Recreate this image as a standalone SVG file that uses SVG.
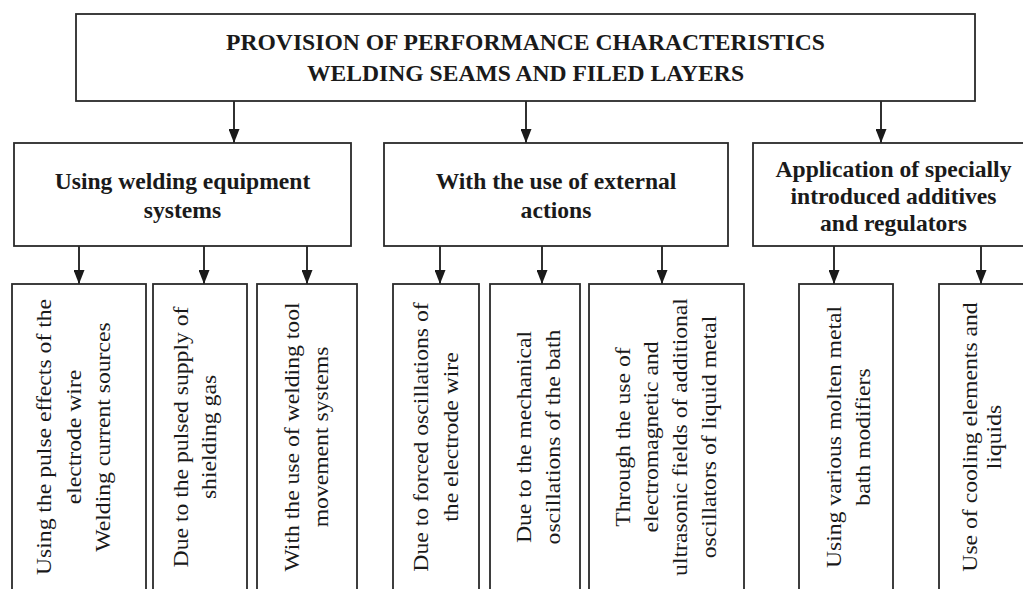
<svg xmlns="http://www.w3.org/2000/svg" width="1023" height="589" viewBox="0 0 1023 589">
<style>
.box{fill:#fff;stroke:#2a2a2a;stroke-width:1.8}
.con{stroke:#1a1a1a;stroke-width:1.8;fill:none}
.h{font-family:"Liberation Serif","Times New Roman",serif;font-weight:bold;font-size:23.6px;fill:#1a1a1a;text-anchor:middle}
.v{font-family:"Liberation Serif","Times New Roman",serif;font-size:20.5px;fill:#1a1a1a;text-anchor:middle}
</style>
<defs>
<marker id="arr" markerUnits="userSpaceOnUse" markerWidth="14" markerHeight="11" viewBox="0 0 14 11" refX="14" refY="5.5" orient="auto">
<path d="M0,0 L14,5.5 L0,11 z" fill="#1a1a1a"/>
</marker>
</defs>
<rect width="1023" height="589" fill="#fff"/>

<g id="connectors">
<line class="con" x1="234" y1="101" x2="234" y2="143" marker-end="url(#arr)"/>
<line class="con" x1="526" y1="101" x2="526" y2="143" marker-end="url(#arr)"/>
<line class="con" x1="881" y1="101" x2="881" y2="143" marker-end="url(#arr)"/>
<line class="con" x1="79" y1="246" x2="79" y2="284" marker-end="url(#arr)"/>
<line class="con" x1="204" y1="246" x2="204" y2="284" marker-end="url(#arr)"/>
<line class="con" x1="307" y1="246" x2="307" y2="284" marker-end="url(#arr)"/>
<line class="con" x1="440" y1="246" x2="440" y2="284" marker-end="url(#arr)"/>
<line class="con" x1="542" y1="246" x2="542" y2="284" marker-end="url(#arr)"/>
<line class="con" x1="662" y1="246" x2="662" y2="284" marker-end="url(#arr)"/>
<line class="con" x1="834" y1="246" x2="834" y2="284" marker-end="url(#arr)"/>
<line class="con" x1="981" y1="246" x2="981" y2="284" marker-end="url(#arr)"/>
</g>

<g id="root">
<rect class="box" x="76" y="14" width="899" height="87"/>
<text class="h" x="525.5" y="50">PROVISION OF PERFORMANCE CHARACTERISTICS</text>
<text class="h" x="525.5" y="81">WELDING SEAMS AND FILED LAYERS</text>
</g>

<g id="equipment">
<rect class="box" x="14" y="143" width="337" height="103"/>
<text class="h" x="182.5" y="189">Using welding equipment</text>
<text class="h" x="182.5" y="218">systems</text>
</g>

<g id="external">
<rect class="box" x="384" y="143" width="344" height="103"/>
<text class="h" x="556" y="189">With the use of external</text>
<text class="h" x="556" y="218">actions</text>
</g>

<g id="additives">
<rect class="box" x="753" y="143" width="281" height="103"/>
<text class="h" x="893.5" y="177">Application of specially</text>
<text class="h" x="893.5" y="204">introduced additives</text>
<text class="h" x="893.5" y="231">and regulators</text>
</g>

<g id="pulse-wire">
<rect class="box" x="12" y="284" width="134" height="320"/>
<g transform="translate(0,437) rotate(-90) scale(1.155,1)">
<text class="v" x="0" y="51">Using the pulse effects of the</text>
<text class="v" x="0" y="81">electrode wire</text>
<text class="v" x="0" y="110">Welding current sources</text>
</g>
</g>

<g id="pulse-gas">
<rect class="box" x="153" y="284" width="94" height="320"/>
<g transform="translate(0,437) rotate(-90) scale(1.155,1)">
<text class="v" x="0" y="188">Due to the pulsed supply of</text>
<text class="v" x="0" y="216">shielding gas</text>
</g>
</g>

<g id="tool-movement">
<rect class="box" x="257" y="284" width="100" height="320"/>
<g transform="translate(0,437) rotate(-90) scale(1.155,1)">
<text class="v" x="0" y="299">With the use of welding tool</text>
<text class="v" x="0" y="328">movement systems</text>
</g>
</g>

<g id="forced-osc">
<rect class="box" x="393" y="284" width="86" height="320"/>
<g transform="translate(0,437) rotate(-90) scale(1.155,1)">
<text class="v" x="0" y="428.5">Due to forced oscillations of</text>
<text class="v" x="0" y="458">the electrode wire</text>
</g>
</g>

<g id="mech-osc">
<rect class="box" x="490" y="284" width="90" height="320"/>
<g transform="translate(0,437) rotate(-90) scale(1.155,1)">
<text class="v" x="0" y="531.5">Due to the mechanical</text>
<text class="v" x="0" y="560">oscillations of the bath</text>
</g>
</g>

<g id="fields">
<rect class="box" x="589" y="284" width="155" height="320"/>
<g transform="translate(0,437) rotate(-90) scale(1.155,1)">
<text class="v" x="0" y="630">Through the use of</text>
<text class="v" x="0" y="658.5">electromagnetic and</text>
<text class="v" x="0" y="687">ultrasonic fields of additional</text>
<text class="v" x="0" y="716">oscillators of liquid metal</text>
</g>
</g>

<g id="modifiers">
<rect class="box" x="799" y="284" width="94" height="320"/>
<g transform="translate(0,437) rotate(-90) scale(1.155,1)">
<text class="v" x="0" y="841.5">Using various molten metal</text>
<text class="v" x="0" y="870">bath modifiers</text>
</g>
</g>

<g id="cooling">
<rect class="box" x="939" y="284" width="100" height="320"/>
<g transform="translate(0,437) rotate(-90) scale(1.155,1)">
<text class="v" x="0" y="977">Use of cooling elements and</text>
<text class="v" x="0" y="1001">liquids</text>
</g>
</g>
</svg>
